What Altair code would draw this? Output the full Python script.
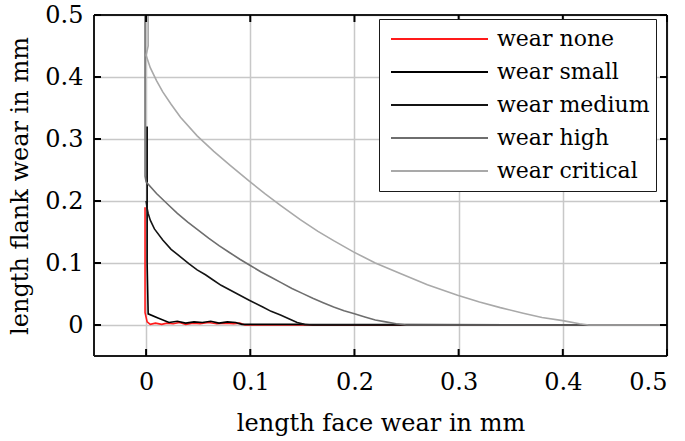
import altair as alt
import pandas as pd

series_names = ["wear none", "wear small", "wear medium", "wear high", "wear critical"]
series_colors = ["#ff1a1a", "#000000", "#141414", "#6e6e6e", "#a9a9a9"]

none_x = [-0.001, -0.001, 0.001, 0.004, 0.009, 0.015, 0.020, 0.026, 0.032, 0.038, 0.045,
          0.052, 0.060, 0.068, 0.076, 0.084, 0.090, 0.095, 0.500]
none_y = [0.190, 0.020, 0.005, 0.001, 0.003, 0.001, 0.003, 0.002, 0.004, 0.001, 0.003,
          0.002, 0.004, 0.002, 0.003, 0.002, 0.003, 0.000, 0.000]

small_x = [0.001, 0.001, 0.002, 0.012, 0.022, 0.030, 0.038, 0.046, 0.054, 0.062, 0.070,
           0.078, 0.086, 0.092, 0.150, 0.160, 0.500]
small_y = [0.320, 0.100, 0.018, 0.011, 0.004, 0.006, 0.003, 0.005, 0.004, 0.006, 0.003,
           0.005, 0.004, 0.001, 0.001, 0.000, 0.000]

medium_x = [0.000, 0.001, 0.002, 0.004, 0.008, 0.016, 0.024, 0.033, 0.041, 0.049, 0.057,
            0.064, 0.072, 0.081, 0.090, 0.099, 0.112, 0.120, 0.129, 0.137, 0.145, 0.152, 0.500]
medium_y = [0.200, 0.188, 0.180, 0.169, 0.155, 0.137, 0.122, 0.110, 0.099, 0.089, 0.081,
            0.073, 0.064, 0.056, 0.048, 0.040, 0.029, 0.022, 0.016, 0.010, 0.004, 0.001, 0.000]

high_x = [-0.001, -0.001, 0.000, 0.010, 0.020, 0.030, 0.040, 0.050, 0.060, 0.070, 0.080,
          0.090, 0.100, 0.110, 0.120, 0.130, 0.140, 0.150, 0.160, 0.170, 0.180, 0.190,
          0.200, 0.210, 0.220, 0.230, 0.240, 0.250, 0.500]
high_y = [0.500, 0.240, 0.231, 0.212, 0.196, 0.180, 0.166, 0.153, 0.140, 0.128, 0.117,
          0.106, 0.096, 0.086, 0.077, 0.068, 0.059, 0.051, 0.043, 0.036, 0.029, 0.023,
          0.018, 0.013, 0.008, 0.005, 0.002, 0.000, 0.000]

critical_x = [0.002, 0.002, 0.000, 0.004, 0.010, 0.016, 0.024, 0.033, 0.049, 0.065, 0.081,
              0.099, 0.114, 0.129, 0.148, 0.165, 0.180, 0.199, 0.220, 0.244, 0.270, 0.299,
              0.320, 0.340, 0.362, 0.380, 0.400, 0.416, 0.425, 0.500]
critical_y = [0.500, 0.450, 0.435, 0.415, 0.394, 0.376, 0.356, 0.335, 0.305, 0.280, 0.257,
              0.232, 0.212, 0.193, 0.170, 0.151, 0.136, 0.118, 0.100, 0.083, 0.065, 0.048,
              0.037, 0.028, 0.019, 0.012, 0.007, 0.002, 0.000, 0.000]

tick_values = [0, 0.1, 0.2, 0.3, 0.4, 0.5]

rows = []
for name, xs, ys in [("wear none", none_x, none_y), ("wear small", small_x, small_y),
                     ("wear medium", medium_x, medium_y), ("wear high", high_x, high_y),
                     ("wear critical", critical_x, critical_y)]:
    for i, (a, b) in enumerate(zip(xs, ys)):
        rows.append({"series": name, "x": a, "y": b, "i": i})
df = pd.DataFrame(rows)
ticks_df = pd.DataFrame({"v": tick_values})

W, H = 573, 341
TL = 7
FONT = "DejaVu Serif"
FRAME = "#1a1a1a"
xdom = [-0.05, 0.5]
ydom = [-0.05, 0.5]
xs_ = alt.Scale(domain=xdom, nice=False, zero=False)
ys_ = alt.Scale(domain=ydom, nice=False, zero=False)

main = alt.Chart(df).mark_line(strokeWidth=1.6, clip=True).encode(
    x=alt.X("x:Q", scale=xs_,
            axis=alt.Axis(orient="bottom", values=tick_values, format=".1~f",
                          title="length face wear in mm", grid=True, gridColor="#c8c8c8",
                          gridWidth=1.5, ticks=False, domain=False, labelFont=FONT,
                          labelFontSize=24, labelColor="black", labelPadding=14,
                          titleFont=FONT, titleFontSize=24, titleFontWeight="normal",
                          titleColor="black", titlePadding=17)),
    y=alt.Y("y:Q", scale=ys_,
            axis=alt.Axis(orient="left", values=tick_values, format=".1~f",
                          title="length flank wear in mm", grid=True, gridColor="#c8c8c8",
                          gridWidth=1.5, ticks=False, domain=False, labelFont=FONT,
                          labelFontSize=24, labelColor="black", labelPadding=11,
                          titleFont=FONT, titleFontSize=24, titleFontWeight="normal",
                          titleColor="black", titlePadding=12)),
    color=alt.Color("series:N",
                    scale=alt.Scale(domain=series_names, range=series_colors),
                    legend=alt.Legend(title=None, orient="none", legendX=285, legendY=4,
                                      symbolType="stroke", symbolSize=9409,
                                      symbolStrokeWidth=1.8, clipHeight=28, rowPadding=5,
                                      padding=6, symbolOffset=5, labelOffset=8,
                                      labelFont=FONT, labelFontSize=22, labelColor="black",
                                      strokeColor=FRAME, fillColor="white",
                                      labelLimit=400)),
    order="i:Q",
)

# frame: horizontal edges at the y-domain ends, vertical edges at the x-domain ends
frame_x = pd.DataFrame({"v": xdom})
frame_y = pd.DataFrame({"v": ydom})
fh = alt.Chart(frame_y).mark_rule(color=FRAME, strokeWidth=2).encode(
    y=alt.Y("v:Q", scale=ys_), x=alt.value(0), x2=alt.value(W))
fv = alt.Chart(frame_x).mark_rule(color=FRAME, strokeWidth=2).encode(
    x=alt.X("v:Q", scale=xs_), y=alt.value(0), y2=alt.value(H))

tick_style = dict(color="black", strokeWidth=2)
tb = alt.Chart(ticks_df).mark_rule(**tick_style).encode(
    x=alt.X("v:Q", scale=xs_), y=alt.value(H), y2=alt.value(H - TL))
tt = alt.Chart(ticks_df).mark_rule(**tick_style).encode(
    x=alt.X("v:Q", scale=xs_), y=alt.value(0), y2=alt.value(TL))
tl = alt.Chart(ticks_df).mark_rule(**tick_style).encode(
    y=alt.Y("v:Q", scale=ys_), x=alt.value(0), x2=alt.value(TL))
tr = alt.Chart(ticks_df).mark_rule(**tick_style).encode(
    y=alt.Y("v:Q", scale=ys_), x=alt.value(W), x2=alt.value(W - TL))

chart = alt.layer(main, fh, fv, tb, tt, tl, tr).properties(
    width=W, height=H,
    autosize=alt.AutoSizeParams(type="none"),
    padding={"left": 94, "top": 15, "right": 18, "bottom": 85},
    background="white",
).configure_view(stroke=None)

chart.save("out.html", embed_options={"renderer": "svg", "actions": False})
